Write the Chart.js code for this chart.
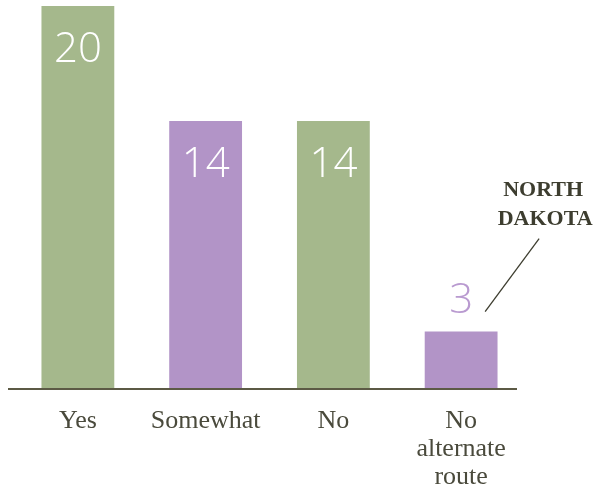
<!DOCTYPE html>
<html>
<head>
<meta charset="utf-8">
<script src="https://cdn.jsdelivr.net/npm/chart.js@4"></script>
<style>
  body { margin: 0; background: #fff; }
  #box { width: 593px; height: 493px; }
</style>
</head>
<body>
<div id="box"><canvas id="myChart"></canvas></div>
<script>
const categorias = ['Yes', 'Somewhat', 'No', ['No', 'alternate', 'route']];
const valores = [20, 14, 14, 3];
const cores = ['#a5b88c', '#b294c7', '#a5b88c', '#b294c7'];
const nota = ['NORTH', 'DAKOTA'];

const textoCor = '#4a4a3c';

// rotulos dentro (ou acima) das barras
var rotulos = {
    id: 'rotulos',
    afterDatasetsDraw(chart) {
        const { ctx } = chart;
        const meta = chart.getDatasetMeta(0);
        ctx.save();
        ctx.font = '300 42px "Open Sans"';
        ctx.textAlign = 'center';
        meta.data.forEach((bar, i) => {
            const v = valores[i];
            if (v >= 5) {
                ctx.fillStyle = '#ffffff';
                ctx.textBaseline = 'middle';
                ctx.fillText(v, bar.x, bar.y + 44);
            } else {
                ctx.fillStyle = '#b99ad0';
                ctx.textBaseline = 'alphabetic';
                ctx.fillText(v, bar.x, bar.y - 19);
            }
        });
        // nota North Dakota
        const ult = meta.data[meta.data.length - 1];
        ctx.fillStyle = '#3d3d2f';
        ctx.font = 'bold 22px "Liberation Serif"';
        ctx.textBaseline = 'alphabetic';
        ctx.fillText(nota[0], ult.x + 82, ult.y - 136);
        ctx.fillText(nota[1], ult.x + 84, ult.y - 107);
        ctx.strokeStyle = '#3d3d2f';
        ctx.lineWidth = 1.3;
        ctx.beginPath();
        ctx.moveTo(ult.x + 78, ult.y - 93);
        ctx.lineTo(ult.x + 24, ult.y - 20);
        ctx.stroke();
        // linha de base
        const area = chart.chartArea;
        ctx.strokeStyle = '#5c5a45';
        ctx.lineWidth = 2;
        ctx.beginPath();
        ctx.moveTo(area.left - 6, area.bottom);
        ctx.lineTo(area.right - 8, area.bottom);
        ctx.stroke();
        ctx.restore();
    }
};

var config = {
    type: 'bar',
    data: {
        labels: categorias,
        datasets: [{
            data: valores,
            backgroundColor: cores,
            borderWidth: 0,
            barPercentage: 0.57,
            categoryPercentage: 1
        }]
    },
    options: {
        responsive: true,
        maintainAspectRatio: false,
        animation: false,
        layout: { padding: { top: 6, left: 14, right: 68, bottom: 0 } },
        plugins: {
            legend: { display: false },
            tooltip: { enabled: false }
        },
        scales: {
            x: {
                grid: { display: false, drawTicks: false },
                border: { display: false },
                ticks: {
                    color: textoCor,
                    font: { family: '"Liberation Serif"', size: 26, lineHeight: 1.08 },
                    padding: 18,
                    maxRotation: 0
                },
                afterFit(scale) { scale.height = 104; }
            },
            y: {
                display: false,
                min: 0,
                max: 20
            }
        }
    },
    plugins: [rotulos]
};

new Chart(document.getElementById('myChart'), config);
</script>
</body>
</html>
